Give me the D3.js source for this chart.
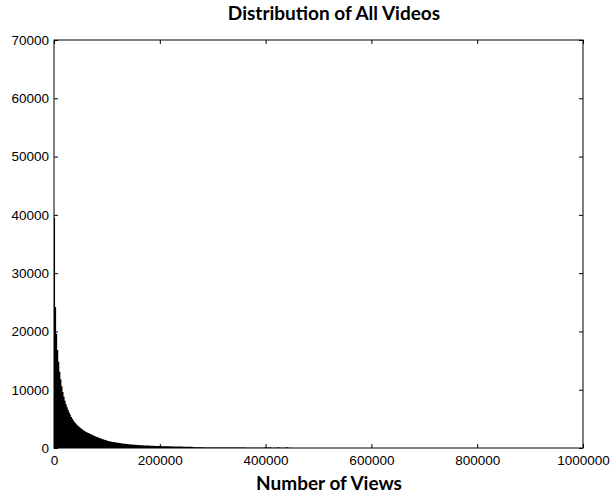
<!DOCTYPE html>
<html>
<head>
<meta charset="utf-8">
<script src="https://cdn.jsdelivr.net/npm/d3@7"></script>
<style>
  body { margin: 0; background: #fff; }
  .tick text { font-family: "Liberation Sans", Arial, sans-serif; font-size: 13.5px; fill: #000; }
  .tick line { stroke: #000; }
</style>
</head>
<body>
<div id="chart"></div>
<script>
// svg definitions
let svgWidth = 611;
let svgHeight = 497;

let margin = { top: 40, right: 28, bottom: 49, left: 54 };
let width = svgWidth - margin.left - margin.right;
let height = svgHeight - margin.top - margin.bottom;

let binWidth = 2000;
let binCounts = [
  39500, 24200, 19600, 16800, 14800, 13100, 11800, 10600, 9600, 8800,
  8100, 7500, 7000, 6500, 6100, 5700, 5300, 5000, 4700, 4450,
  4250, 4050, 3850, 3700, 3550, 3400, 3250, 3100, 2980, 2860,
  2750, 2650, 2560, 2470, 2390, 2300, 2220, 2140, 2060, 1980,
  1900, 1830, 1760, 1690, 1620, 1550, 1490, 1430, 1370, 1310,
  1250, 1210, 1170, 1130, 1090, 1050, 1020, 990, 960, 930,
  900, 870, 840, 820, 790, 760, 740, 720, 700, 670,
  650, 630, 620, 600, 580, 570, 560, 540, 530, 510,
  500, 490, 480, 470, 460, 450, 440, 430, 420, 410,
  400, 390, 380, 370, 365, 360, 350, 345, 340, 335,
  330, 325, 320, 315, 310, 305, 300, 295, 290, 285,
  280, 275, 270, 265, 262, 258, 254, 250, 247, 243,
  240, 237, 234, 231, 228, 225, 222, 219, 216, 213,
  210, 130, 125, 122, 120, 118, 116, 114, 112, 110,
  108, 106, 104, 103, 101, 100, 98, 97, 95, 94,
  92, 91, 90, 88, 87, 86, 85, 84, 83, 82,
  81, 80, 79, 78, 77, 76, 75, 74, 74, 73,
  72, 71, 71, 70, 69, 68, 68, 67, 66, 66,
  65, 64, 64, 63, 62, 62, 61, 61, 60, 60,
  59, 59, 58, 58, 57, 57, 56, 56, 55, 180,
  90, 80, 70, 70, 160, 60, 60, 60, 60, 50,
  50, 150, 140, 60, 60, 50, 50, 50, 50, 150,
  140, 60, 40, 30
];

let xTicks = [0, 200000, 400000, 600000, 800000, 1000000];
let yTicks = [0, 10000, 20000, 30000, 40000, 50000, 60000, 70000];

let titleText = 'Distribution of All Videos';
let xLabelText = 'Number of Views';

let bins = binCounts.map((c, i) => ({ x0: i * binWidth, x1: (i + 1) * binWidth, count: c }));

let svg = d3.select('#chart').append('svg')
  .attr('width', svgWidth)
  .attr('height', svgHeight);

let chartG = svg.append('g')
  .attr('transform', `translate(${margin.left}, ${margin.top})`);

let xLin = d3.scaleLinear().domain([0, 1000000]).range([0, width]);
let yLin = d3.scaleLinear().domain([0, 70000]).range([height, 0]);

// bars drawn as one stepped area so neighbouring thin bars do not leave seams
let stepPts = bins.map(b => [b.x0, b.count]);
stepPts.push([bins[bins.length - 1].x1, bins[bins.length - 1].count]);

let area = d3.area()
  .x(d => xLin(d[0]))
  .y0(yLin(0))
  .y1(d => yLin(d[1]))
  .curve(d3.curveStepAfter);

chartG.append('path')
  .datum(stepPts)
  .attr('d', area)
  .attr('fill', '#000');

// inward ticks on all four sides
chartG.append('g')
  .attr('transform', `translate(0, ${height})`)
  .call(d3.axisBottom(xLin).tickValues(xTicks).tickFormat(d3.format('d'))
    .tickSizeInner(-4).tickSizeOuter(0).tickPadding(7))
  .call(g => g.select('.domain').remove());

chartG.append('g')
  .call(d3.axisTop(xLin).tickValues(xTicks).tickFormat('')
    .tickSizeInner(-4).tickSizeOuter(0))
  .call(g => g.select('.domain').remove());

chartG.append('g')
  .call(d3.axisLeft(yLin).tickValues(yTicks).tickFormat(d3.format('d'))
    .tickSizeInner(-4).tickSizeOuter(0).tickPadding(5))
  .call(g => g.select('.domain').remove());

chartG.append('g')
  .attr('transform', `translate(${width}, 0)`)
  .call(d3.axisRight(yLin).tickValues(yTicks).tickFormat('')
    .tickSizeInner(-4).tickSizeOuter(0))
  .call(g => g.select('.domain').remove());

// frame
chartG.append('rect')
  .attr('x', 0).attr('y', 0)
  .attr('width', width).attr('height', height)
  .attr('fill', 'none')
  .attr('stroke', '#000')
  .attr('stroke-width', 1);

// title and x label
svg.append('text')
  .attr('x', 334)
  .attr('y', 20)
  .attr('text-anchor', 'middle')
  .style('font-family', 'Lato, "Open Sans", sans-serif')
  .style('font-weight', 'bold')
  .style('font-size', '19px')
  .text(titleText);

svg.append('text')
  .attr('x', 329)
  .attr('y', 490)
  .attr('text-anchor', 'middle')
  .style('font-family', 'Lato, "Open Sans", sans-serif')
  .style('font-weight', 'bold')
  .style('font-size', '19px')
  .text(xLabelText);
</script>
</body>
</html>
